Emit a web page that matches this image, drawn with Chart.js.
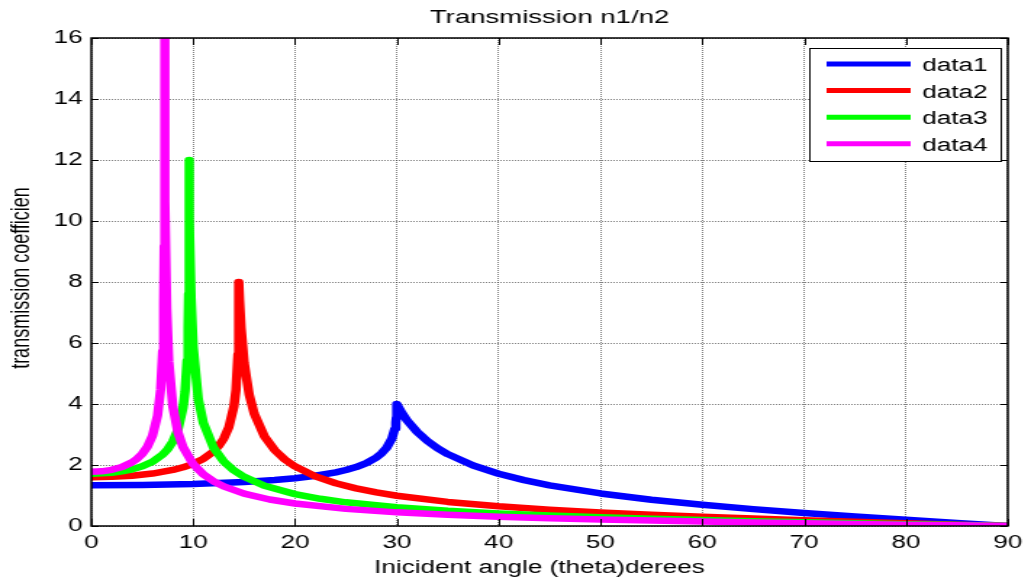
<!DOCTYPE html>
<html>
<head>
<meta charset="utf-8">
<script src="https://cdn.jsdelivr.net/npm/chart.js@4.4.1/dist/chart.umd.min.js"></script>
<style>
  html, body { margin: 0; padding: 0; background: #fff; overflow: hidden; }
  #c { display: block; }
</style>
</head>
<body>
<canvas id="c" width="711" height="580" style="width:1031px;height:580px;display:block;"></canvas>
<script>
// ---- data ----
const chartTitle = 'Transmission n1/n2';
const xTitle = 'Inicident angle (theta)derees';
const yTitle = 'transmission coefficien';
const seriesNames = ['data1', 'data2', 'data3', 'data4'];
const seriesColors = ['#0000ff', '#ff0000', '#00ff00', '#ff00ff'];

const angles1 = [0,5,10,15,18,20,22,24,25,26,27,28,28.5,29,29.5,29.8,29.9,29.95,29.99,30,30.05,30.2,30.5,31,32,33,34,35,37.5,40,42.5,45,50,55,60,65,70,75,80,85,90];
const trans1  = [1.333,1.344,1.377,1.443,1.508,1.567,1.647,1.760,1.835,1.932,2.061,2.248,2.382,2.565,2.859,3.194,3.392,3.550,3.785,4.0,3.968,3.876,3.709,3.465,3.081,2.787,2.550,2.356,1.984,1.713,1.504,1.333,1.067,0.863,0.696,0.554,0.427,0.312,0.204,0.101,0];

const angles2 = [0,2,4,6,8,9,10,11,12,12.5,13,13.5,14,14.2,14.4,14.47,14.4775,14.55,14.7,15,15.5,16,17,18,19,20,22,24,26,28,30,35,40,45,50,55,60,65,70,75,80,85,90];
const trans2  = [1.6,1.612,1.649,1.719,1.837,1.924,2.040,2.202,2.446,2.622,2.866,3.236,3.923,4.455,5.632,7.06,8.0,7.396,6.493,5.356,4.306,3.679,2.933,2.488,2.181,1.952,1.627,1.402,1.233,1.100,0.992,0.790,0.645,0.533,0.443,0.367,0.301,0.243,0.189,0.139,0.091,0.045,0];

const angles3 = [0,2,3,4,5,6,7,7.5,8,8.5,9,9.2,9.4,9.5,9.55,9.58,9.594,9.62,9.65,9.8,10,10.5,11,12,13,14,15,17,20,22.5,25,30,35,40,45,50,55,60,65,70,75,80,85,90];
const trans3  = [1.714,1.747,1.790,1.857,1.956,2.106,2.342,2.519,2.769,3.155,3.876,4.417,5.428,6.502,7.604,9.062,12.0,10.948,10.02,7.45,5.873,4.169,3.379,2.563,2.116,1.823,1.611,1.319,1.045,0.892,0.776,0.612,0.497,0.411,0.343,0.287,0.238,0.196,0.158,0.123,0.091,0.060,0.030,0];

const angles4 = [0,1,2,3,4,4.5,5,5.5,6,6.5,6.8,7,7.1,7.15,7.18,7.25,7.4,7.6,8,8.5,9,10,11,12,13,15,17.5,20,25,30,35,40,45,50,55,60,65,70,75,80,85,90];
const trans4  = [1.778,1.793,1.842,1.934,2.090,2.208,2.368,2.598,2.957,3.624,4.468,5.729,7.263,9.175,16.0,10.65,7.144,5.397,3.923,3.076,2.591,2.026,1.693,1.466,1.298,1.063,0.870,0.737,0.561,0.447,0.366,0.304,0.254,0.213,0.177,0.146,0.118,0.092,0.068,0.044,0.022,0];

const xMin = 0, xMax = 90, xStep = 10;
const yMin = 0, yMax = 16, yStep = 2;

// ---- build datasets ----
const angleSets = [angles1, angles2, angles3, angles4];
const transSets = [trans1, trans2, trans3, trans4];
const datasets = seriesNames.map((name, i) => ({
  label: name,
  data: angleSets[i].map((a, k) => ({ x: a, y: transSets[i][k] })),
  borderColor: seriesColors[i],
  backgroundColor: seriesColors[i],
  borderWidth: 6.5,
  pointRadius: 0,
  tension: 0,
  fill: false,
  borderJoinStyle: 'round',
  borderCapStyle: 'round',
  order: seriesNames.length - i
}));

const FONT = '"Liberation Sans", Arial, Helvetica, sans-serif';

const decorPlugin = {
  id: 'decor',
  afterDatasetsDraw(chart) {
    const ctx = chart.ctx;
    const a = chart.chartArea;
    const xs = chart.scales.x, ys = chart.scales.y;
    ctx.save();
    // frame
    ctx.strokeStyle = '#000';
    ctx.lineWidth = 1.5;
    ctx.strokeRect(a.left, a.top, a.right - a.left, a.bottom - a.top);
    // inward tick marks
    ctx.lineWidth = 1;
    ctx.beginPath();
    ys.ticks.forEach(t => {
      const y = Math.round(ys.getPixelForValue(t.value)) + 0.5;
      ctx.moveTo(a.left, y); ctx.lineTo(a.left + 5, y);
      ctx.moveTo(a.right, y); ctx.lineTo(a.right - 5, y);
    });
    xs.ticks.forEach(t => {
      const x = Math.round(xs.getPixelForValue(t.value)) + 0.5;
      ctx.moveTo(x, a.bottom); ctx.lineTo(x, a.bottom - 7);
      ctx.moveTo(x, a.top); ctx.lineTo(x, a.top + 7);
    });
    ctx.stroke();

    // legend
    const lx = 558, ly = 48, lw = 132, lh = 113;
    ctx.fillStyle = '#fff';
    ctx.fillRect(lx, ly, lw, lh);
    ctx.strokeStyle = '#000';
    ctx.lineWidth = 1;
    ctx.strokeRect(lx + 0.5, ly + 0.5, lw, lh);
    ctx.font = '18px ' + FONT;
    ctx.textBaseline = 'middle';
    ctx.textAlign = 'left';
    chart.data.datasets.forEach((ds, i) => {
      const y = 64 + i * 26.6;
      ctx.strokeStyle = ds.borderColor;
      ctx.lineWidth = 5;
      ctx.beginPath();
      ctx.moveTo(570, y); ctx.lineTo(628, y);
      ctx.stroke();
      ctx.fillStyle = '#000';
      ctx.fillText(ds.label, 636, y + 2);
    });

    // titles
    ctx.fillStyle = '#000';
    ctx.textAlign = 'center';
    ctx.textBaseline = 'middle';
    ctx.font = '19px ' + FONT;
    ctx.fillText(chartTitle, (a.left + a.right) / 2, 18);
    ctx.font = '18px ' + FONT;
    ctx.fillText(xTitle, 372, 568);
    ctx.translate(15, 278);
    ctx.rotate(-Math.PI / 2);
    ctx.fillText(yTitle, 0, 0);
    ctx.restore();
  }
};

new Chart(document.getElementById('c'), {
  type: 'line',
  data: { datasets },
  options: {
    responsive: false,
    animation: false,
    events: [],
    layout: { padding: { top: 38, right: 12, left: 0, bottom: 0 } },
    plugins: { legend: { display: false }, tooltip: { enabled: false }, title: { display: false } },
    scales: {
      x: {
        type: 'linear',
        min: xMin, max: xMax,
        ticks: { stepSize: xStep, color: '#000', padding: 6, maxRotation: 0, font: { family: FONT, size: 18 } },
        grid: { color: 'rgba(0,0,0,0.5)', lineWidth: 1, drawTicks: false },
        border: { display: false, dash: [1, 1] },
        afterFit(s) { s.height = 54; }
      },
      y: {
        type: 'linear',
        min: yMin, max: yMax,
        ticks: { stepSize: yStep, color: '#000', padding: 6, font: { family: FONT, size: 18 } },
        grid: { color: 'rgba(0,0,0,0.5)', lineWidth: 1, drawTicks: false },
        border: { display: false, dash: [1, 1] },
        afterFit(s) { s.width = 63; }
      }
    }
  },
  plugins: [decorPlugin]
});
</script>
</body>
</html>
